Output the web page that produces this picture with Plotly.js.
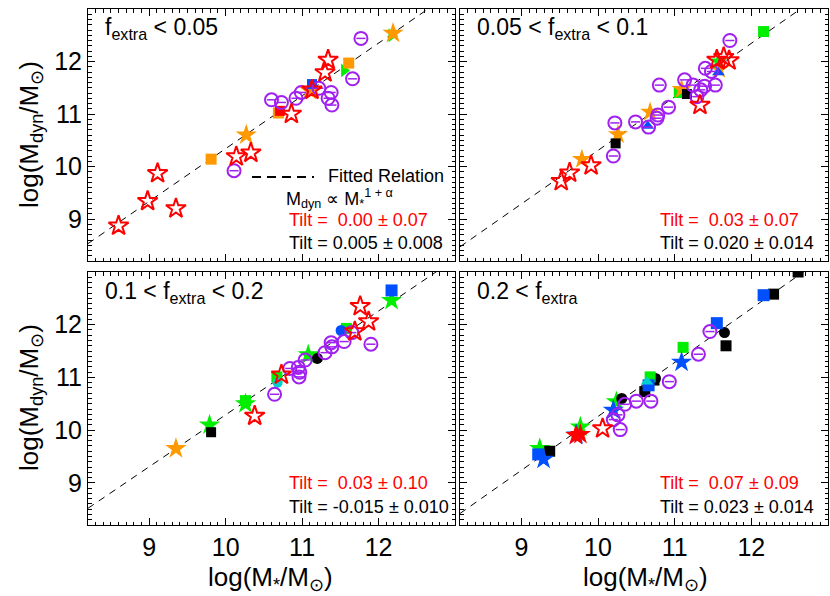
<!DOCTYPE html>
<html>
<head>
<meta charset="utf-8">
<script src="https://cdn.plot.ly/plotly-3.0.1.min.js"></script>
<style>html,body{margin:0;padding:0;background:#fff;}#chart{width:830px;height:596px;}</style>
</head>
<body>
<div id="chart"></div>
<script>
// ---------- data ----------
const panelTitles = ["f<sub>extra</sub> < 0.05", "0.05 < f<sub>extra</sub> < 0.1", "0.1 < f<sub>extra</sub> < 0.2", "0.2 < f<sub>extra</sub>"];
const redTiltText = ["0.00 ± 0.07", "0.03 ± 0.07", "0.03 ± 0.10", "0.07 ± 0.09"];
const blackTiltText = ["0.005 ± 0.008", "0.020 ± 0.014", "-0.015 ± 0.010", "0.023 ± 0.014"];
const fitTilt = [0.005, 0.020, -0.015, 0.023];
const fitIntercept = [0.29, 0.106, 0.44, 0.03];
const xTicks = [9, 10, 11, 12];

// Panel 1: f_extra < 0.05
const p1RedStarX = [8.60, 8.98, 9.11, 9.35, 10.14, 10.33, 10.86, 11.13, 11.30, 11.34];
const p1RedStarY = [8.87, 9.34, 9.87, 9.20, 10.19, 10.26, 11.00, 11.46, 11.79, 12.03];
const p1PurpleX = [10.11, 10.60, 10.73, 10.92, 10.99, 11.22, 11.38, 11.34, 11.39, 11.66, 11.77];
const p1PurpleY = [9.92, 11.27, 11.22, 11.30, 11.41, 11.49, 11.41, 11.30, 11.17, 11.67, 12.44];
const p1OrangeSqX = [9.81, 10.69, 11.61];
const p1OrangeSqY = [10.14, 11.02, 11.97];
const p1OrangeStarX = [10.27, 11.10, 12.19];
const p1OrangeStarY = [10.60, 11.45, 12.54];
const p1GreenX = [11.55, 12.17];
const p1GreenY = [11.83, 12.50];
const p1BlueSqX = [11.13];
const p1BlueSqY = [11.57];
const p1RedSqX = [10.71];
const p1RedSqY = [11.06];

// Panel 2: 0.05 < f_extra < 0.1
const p2RedStarX = [9.52, 9.63, 9.91, 11.33, 11.55, 11.64, 11.71];
const p2RedStarY = [9.72, 9.88, 10.02, 11.17, 12.03, 12.08, 12.02];
const p2PurpleX = [10.20, 10.22, 10.49, 10.66, 10.77, 10.78, 10.92, 10.80, 11.13, 11.24, 11.34, 11.29, 11.39, 11.53, 11.40, 11.48, 11.72];
const p2PurpleY = [10.20, 10.83, 10.85, 10.75, 10.92, 10.98, 11.13, 11.55, 11.65, 11.55, 11.46, 11.33, 11.53, 11.55, 11.87, 11.81, 12.40];
const p2OrangeX = [9.79, 10.26, 10.68, 11.09, 11.58];
const p2OrangeY = [10.14, 10.61, 11.04, 11.47, 11.85];
const p2BlackSqX = [10.23, 11.16];
const p2BlackSqY = [10.44, 11.38];
const p2GreenSqX = [12.16, 11.06];
const p2GreenSqY = [12.57, 11.41];
const p2GreenStarX = [11.57];
const p2GreenStarY = [12.00];
const p2BlueTriX = [10.65, 11.57];
const p2BlueTriY = [10.77, 11.79];

// Panel 3: 0.1 < f_extra < 0.2
const p3RedStarX = [10.38, 10.73, 11.69, 11.76, 11.87];
const p3RedStarY = [10.27, 11.05, 11.87, 12.35, 12.06];
const p3PurpleX = [10.64, 10.84, 10.95, 10.96, 10.97, 11.04, 11.30, 11.39, 11.38, 11.55, 11.65, 11.90];
const p3PurpleY = [10.68, 11.17, 11.19, 11.01, 11.10, 11.33, 11.47, 11.58, 11.66, 11.68, 11.85, 11.63];
const p3OrangeStarX = [9.35];
const p3OrangeStarY = [9.65];
const p3BlackSqX = [9.81];
const p3BlackSqY = [9.96];
const p3BlackCircX = [11.20];
const p3BlackCircY = [11.36];
const p3GreenStarX = [9.79, 10.26, 11.08, 12.17];
const p3GreenStarY = [10.10, 10.50, 11.43, 12.46];
const p3GreenSqX = [10.26, 10.67, 11.58];
const p3GreenSqY = [10.56, 11.01, 11.93];
const p3BlueCircX = [11.51];
const p3BlueCircY = [11.89];
const p3BlueSqX = [12.17];
const p3BlueSqY = [12.65];
const p3CyanX = [10.68];
const p3CyanY = [10.90];

// Panel 4: 0.2 < f_extra
const p4RedStarX = [10.06];
const p4RedStarY = [10.03];
const p4RedFillX = [9.71, 9.77];
const p4RedFillY = [9.90, 9.92];
const p4PurpleX = [10.29, 10.20, 10.26, 10.35, 10.50, 10.69, 10.93, 11.31, 11.46];
const p4PurpleY = [10.01, 10.20, 10.29, 10.49, 10.55, 10.55, 10.92, 11.44, 11.87];
const p4BlueSqX = [9.22, 10.66, 11.55, 12.16];
const p4BlueSqY = [9.54, 10.85, 12.03, 12.56];
const p4BlueStarX = [9.29, 9.72, 10.20, 11.09];
const p4BlueStarY = [9.45, 9.91, 10.38, 11.29];
const p4CyanTriX = [10.64];
const p4CyanTriY = [10.92];
const p4GreenStarX = [9.24, 9.77, 10.24];
const p4GreenStarY = [9.65, 10.06, 10.54];
const p4GreenSqX = [10.68, 11.11];
const p4GreenSqY = [11.01, 11.57];
const p4BlackSqX = [9.37, 10.61, 10.73, 11.67, 12.29, 12.61];
const p4BlackSqY = [9.60, 10.73, 10.95, 11.60, 12.58, 13.00];
const p4BlackCircX = [10.31, 10.75, 11.65];
const p4BlackCircY = [10.60, 10.98, 11.85];

// ---------- styling / building ----------
const C = {red:'#ff0000', purple:'#a020f0', orange:'#ff9900', green:'#00ee00', blue:'#0050ff', black:'#000000', cyan:'#00d0d0'};
const axn = [['x','y'],['x2','y2'],['x3','y3'],['x4','y4']];
const traces = [];

// fitted relations
const lineX = [8.2, 13.0];
for (let i = 0; i < 4; i++) {
  traces.push({x: lineX, y: lineX.map(v => (1 + fitTilt[i]) * v + fitIntercept[i]),
    xaxis: axn[i][0], yaxis: axn[i][1], mode: 'lines', showlegend: false, hoverinfo: 'skip',
    line: {color: '#000', width: 1, dash: '7px,6px'}});
}

function filled(p, xs, ys, color, symbol, size) {
  traces.push({x: xs, y: ys, xaxis: axn[p][0], yaxis: axn[p][1], mode: 'markers', showlegend: false,
    cliponaxis: true,
    marker: {symbol: symbol, size: size, color: color, line: {width: 0}}});
}
function openStar(p, xs, ys) {
  traces.push({x: xs, y: ys, xaxis: axn[p][0], yaxis: axn[p][1], mode: 'markers', showlegend: false,
    marker: {symbol: 'star-open', size: 15, color: C.red, line: {width: 2, color: C.red}}});
}
function purple(p, xs, ys) {
  traces.push({x: xs, y: ys, xaxis: axn[p][0], yaxis: axn[p][1], mode: 'markers', showlegend: false,
    error_x: {type: 'constant', value: 0.06, width: 0, thickness: 1.5, color: C.purple},
    marker: {symbol: 'circle-open', size: 13, color: C.purple, line: {width: 2, color: C.purple}}});
}

// panel 1
filled(0, p1GreenX, p1GreenY, C.green, 'triangle-right', 12);
filled(0, p1OrangeSqX, p1OrangeSqY, C.orange, 'square', 11);
filled(0, p1OrangeStarX, p1OrangeStarY, C.orange, 'star', 16);
filled(0, p1BlueSqX, p1BlueSqY, C.blue, 'square', 10);
filled(0, p1RedSqX, p1RedSqY, C.red, 'square', 10);
purple(0, p1PurpleX, p1PurpleY);
openStar(0, p1RedStarX, p1RedStarY);
// panel 2
filled(1, p2GreenSqX, p2GreenSqY, C.green, 'square', 11);
filled(1, p2OrangeX, p2OrangeY, C.orange, 'star', 15);
filled(1, p2BlackSqX, p2BlackSqY, C.black, 'square', 10);
filled(1, p2BlueTriX, p2BlueTriY, C.blue, 'triangle-up', 11);
filled(1, p2GreenStarX, p2GreenStarY, C.green, 'star', 14);
purple(1, p2PurpleX, p2PurpleY);
openStar(1, p2RedStarX, p2RedStarY);
// panel 3
filled(2, p3OrangeStarX, p3OrangeStarY, C.orange, 'star', 16);
filled(2, p3GreenSqX, p3GreenSqY, C.green, 'square', 11);
filled(2, p3GreenStarX, p3GreenStarY, C.green, 'star', 16);
filled(2, p3CyanX, p3CyanY, C.cyan, 'circle', 10);
filled(2, p3BlackSqX, p3BlackSqY, C.black, 'square', 10);
filled(2, p3BlackCircX, p3BlackCircY, C.black, 'circle', 11);
filled(2, p3BlueCircX, p3BlueCircY, C.blue, 'circle', 11);
filled(2, p3BlueSqX, p3BlueSqY, C.blue, 'square', 12);
purple(2, p3PurpleX, p3PurpleY);
openStar(2, p3RedStarX, p3RedStarY);
// panel 4
filled(3, p4GreenStarX, p4GreenStarY, C.green, 'star', 16);
filled(3, p4BlackSqX, p4BlackSqY, C.black, 'square', 11);
filled(3, p4BlackCircX, p4BlackCircY, C.black, 'circle', 11);
filled(3, p4GreenSqX, p4GreenSqY, C.green, 'square', 11);
filled(3, p4BlueSqX, p4BlueSqY, C.blue, 'square', 12);
filled(3, p4BlueStarX, p4BlueStarY, C.blue, 'star', 16);
filled(3, p4CyanTriX, p4CyanTriY, C.cyan, 'triangle-up', 11);
filled(3, p4RedFillX, p4RedFillY, C.red, 'star', 16);
purple(3, p4PurpleX, p4PurpleY);
openStar(3, p4RedStarX, p4RedStarY);

const FONT = 'Liberation Sans Narrow, Liberation Sans, Arial, sans-serif';
function axis(domain, anchor, showLabels) {
  return {domain: domain, anchor: anchor, range: [8.2, 13.0], showgrid: false, zeroline: false,
    showline: true, linecolor: '#000', linewidth: 1, mirror: 'allticks',
    ticks: 'inside', ticklen: 7, tickwidth: 1, tickcolor: '#000',
    tickmode: 'array', tickvals: xTicks, ticktext: xTicks.map(String),
    showticklabels: showLabels, tickfont: {family: FONT, size: 25, color: '#000'},
    minor: {dtick: 0.1, ticklen: 3.5, ticks: 'inside', tickcolor: '#000', tickwidth: 1, showgrid: false},
    fixedrange: true};
}
const xL = [88/830, 455/830], xR = [460/830, 828/830];
const yT = [1 - 261/596, 1 - 9/596], yB = [1 - 525/596, 1 - 272/596];

const layout = {
  width: 830, height: 596, margin: {l: 0, r: 0, t: 0, b: 0}, paper_bgcolor: '#fff', plot_bgcolor: '#fff',
  showlegend: false, font: {family: FONT, color: '#000'},
  xaxis: axis(xL, 'y', false), yaxis: axis(yT, 'x', true),
  xaxis2: axis(xR, 'y2', false), yaxis2: axis(yT, 'x2', false),
  xaxis3: axis(xL, 'y3', true), yaxis3: axis(yB, 'x3', true),
  xaxis4: axis(xR, 'y4', true), yaxis4: axis(yB, 'x4', false),
  annotations: [], shapes: []
};

const titleX = [103/830, 475/830, 103/830, 475/830];
const titleY = [1 - 28/596, 1 - 28/596, 1 - 292/596, 1 - 292/596];
const tiltX = [287/830, 658/830, 287/830, 658/830];
const tiltRedY = [1 - 220/596, 1 - 220/596, 1 - 483/596, 1 - 483/596];
const tiltBlackY = [1 - 243/596, 1 - 243/596, 1 - 507/596, 1 - 507/596];
for (let i = 0; i < 4; i++) {
  layout.annotations.push({xref: 'paper', yref: 'paper', x: titleX[i], y: titleY[i], xanchor: 'left', yanchor: 'middle',
    text: panelTitles[i], showarrow: false, font: {size: 23, family: FONT}});
  layout.annotations.push({xref: 'paper', yref: 'paper', x: tiltX[i], y: tiltRedY[i], xanchor: 'left', yanchor: 'middle',
    text: 'Tilt =  ' + redTiltText[i], showarrow: false, font: {size: 18, family: FONT, color: '#ff0000'}});
  layout.annotations.push({xref: 'paper', yref: 'paper', x: tiltX[i], y: tiltBlackY[i], xanchor: 'left', yanchor: 'middle',
    text: 'Tilt = ' + blackTiltText[i], showarrow: false, font: {size: 18, family: FONT, color: '#000'}});
}
// legend for panel 1
layout.shapes.push({type: 'line', xref: 'paper', yref: 'paper', x0: 252/830, x1: 314/830, y0: 1 - 177/596, y1: 1 - 177/596,
  line: {color: '#000', width: 2, dash: '9px,6px'}});
layout.annotations.push({xref: 'paper', yref: 'paper', x: 326/830, y: 1 - 176/596, xanchor: 'left', yanchor: 'middle',
  text: 'Fitted Relation', showarrow: false, font: {size: 18, family: FONT}});
layout.annotations.push({xref: 'paper', yref: 'paper', x: 284/830, y: 1 - 198/596, xanchor: 'left', yanchor: 'middle',
  text: 'M<sub>dyn</sub> ∝ M<sub>*</sub><sup>1 + α</sup>', showarrow: false, font: {size: 18, family: FONT}});
// axis titles
const yTitle = 'log(M<sub>dyn</sub>/M<sub>⊙</sub>)';
const xTitle = 'log(M<sub>*</sub>/M<sub>⊙</sub>)';
[1 - 135/596, 1 - 398/596].forEach(yy => layout.annotations.push({xref: 'paper', yref: 'paper', x: 30/830, y: yy,
  xanchor: 'center', yanchor: 'middle', textangle: -90, text: yTitle, showarrow: false, font: {size: 26, family: FONT}}));
[270/830, 645/830].forEach(xx => layout.annotations.push({xref: 'paper', yref: 'paper', x: xx, y: 1 - 578/596,
  xanchor: 'center', yanchor: 'middle', text: xTitle, showarrow: false, font: {size: 26, family: FONT}}));

Plotly.newPlot('chart', traces, layout, {staticPlot: true, displayModeBar: false});
</script>
</body>
</html>
